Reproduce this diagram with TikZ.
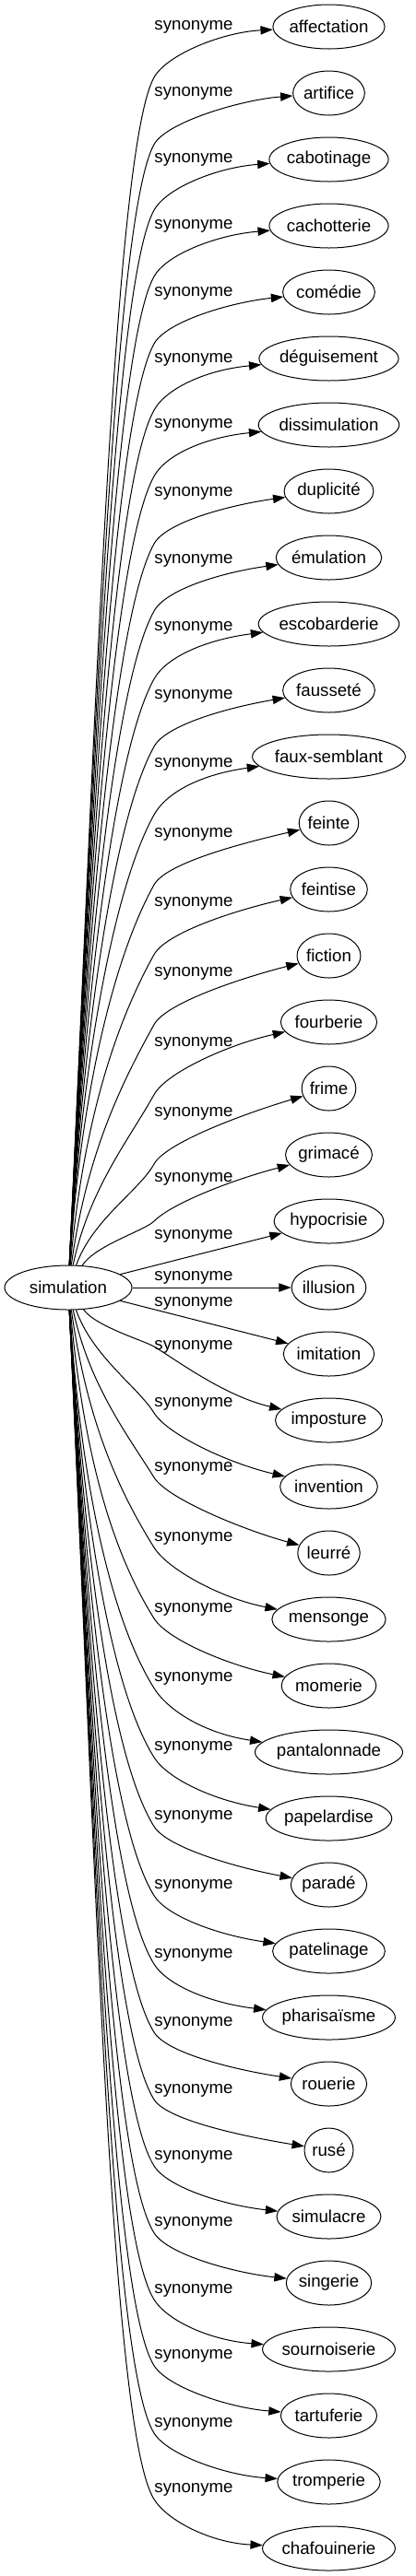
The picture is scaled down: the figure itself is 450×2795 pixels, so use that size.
\documentclass[tikz,border=0pt]{standalone}
\usepackage{fontspec}
\setmainfont{Liberation Sans}
\usetikzlibrary{calc,arrows.meta,shapes.geometric}
\newsavebox\wordbox
\newlength\wordlen
\begin{document}
\begin{tikzpicture}[x=0.75pt,y=-0.75pt,
  every node/.style={font=\fontsize{14pt}{16pt}\selectfont},
  word/.style={draw, ellipse, line width=0.75pt, inner sep=0pt, minimum height=36pt},
  lab/.style={inner sep=0pt},
  edge/.style={line width=0.75pt, -{Triangle[length=10pt,width=7pt]}}]
\useasboundingbox (0,0) rectangle (450,2795);
\node[word, minimum width=103.5pt] (s) at (74,1397) {simulation};
\foreach \i/\w/\ly in {1/affectation/29, 2/artifice/101.7, 3/cabotinage/173, 4/cachotterie/245, 5/comédie/318, 6/déguisement/390, 7/dissimulation/461.7, 8/duplicité/535, 9/émulation/608, 10/escobarderie/681.7, 11/fausseté/755, 12/faux-semblant/829, 13/feinte/905, 14/feintise/980.7, 15/fiction/1056.7, 16/fourberie/1132.7, 17/frime/1208, 18/grimacé/1279, 19/hypocrisie/1341, 20/illusion/1386, 21/imitation/1414, 22/imposture/1461, 23/invention/1523, 24/leurré/1593, 25/mensonge/1669, 26/momerie/1746, 27/pantalonnade/1821.7, 28/papelardise/1896.7, 29/paradé/1971.7, 30/patelinage/2046.7, 31/pharisaïsme/2121, 32/rouerie/2195, 33/rusé/2268, 34/simulacre/2340, 35/singerie/2412.7, 36/sournoiserie/2485, 37/tartuferie/2556.7, 38/tromperie/2630, 39/chafouinerie/2701.7} {
  \sbox\wordbox{\fontsize{14pt}{16pt}\selectfont \w}
  \setlength\wordlen{\wd\wordbox}
  \addtolength\wordlen{39.75pt}
  \pgfmathsetmacro\ty{29+72*(\i-1)}
  \node[word, minimum width=\wordlen] (t\i) at (356.5,\ty) {\w};
  \node[lab] (l\i) at (210,\ly) {synonyme};
  \ifnum\i<19
    \pgfmathsetmacro\wy{\ly + (\i==18 ? 46 : 55)}
    \pgfmathsetmacro\m{\i==18 ? 1.0 : 1.8}
    \pgfmathsetmacro\nx{1/sqrt(1+\m*\m)}
    \pgfmathsetmacro\ny{-\m/sqrt(1+\m*\m)}
    \pgfmathsetmacro\h{1373-\wy}
    \pgfmathsetmacro\ax{80+25*max(0,1-\h/400)+0.018*\h}
    \pgfmathsetmacro\ay{1373-0.45*\h}
    \pgfmathsetmacro\L{min(90,0.3*\h)}
    \pgfmathsetmacro\bx{167-\L*\nx}
    \pgfmathsetmacro\by{\wy-\L*\ny}
    \pgfmathsetmacro\cx{167+28*\nx}
    \pgfmathsetmacro\cy{\wy+28*\ny}
    \pgfmathsetmacro\dd{6+(\i-1)*1.2}
    \draw[edge] (s) .. controls (\ax,\ay) and (\bx,\by) .. (167,\wy) .. controls (\cx,\cy) and ($(t\i.west)+(-55,\dd)$) .. (t\i);
  \else\ifnum\i<22
    \draw[edge] (s) -- (t\i);
  \else
    \pgfmathsetmacro\wy{\ly + (\i==22 ? 0 : 10)}
    \pgfmathsetmacro\m{\i==22 ? 0.6 : 1.6}
    \pgfmathsetmacro\nx{1/sqrt(1+\m*\m)}
    \pgfmathsetmacro\ny{\m/sqrt(1+\m*\m)}
    \pgfmathsetmacro\h{\wy-1421}
    \pgfmathsetmacro\ax{80+25*max(0,1-\h/400)+0.018*\h}
    \pgfmathsetmacro\ay{1421+0.45*\h}
    \pgfmathsetmacro\L{min(90,0.3*\h)}
    \pgfmathsetmacro\bx{167-\L*\nx}
    \pgfmathsetmacro\by{\wy-\L*\ny}
    \pgfmathsetmacro\cx{167+28*\nx}
    \pgfmathsetmacro\cy{\wy+28*\ny}
    \pgfmathsetmacro\dd{-(6+(39-\i)*1.2)}
    \draw[edge] (s) .. controls (\ax,\ay) and (\bx,\by) .. (167,\wy) .. controls (\cx,\cy) and ($(t\i.west)+(-55,\dd)$) .. (t\i);
  \fi\fi
}
\end{tikzpicture}
\end{document}
